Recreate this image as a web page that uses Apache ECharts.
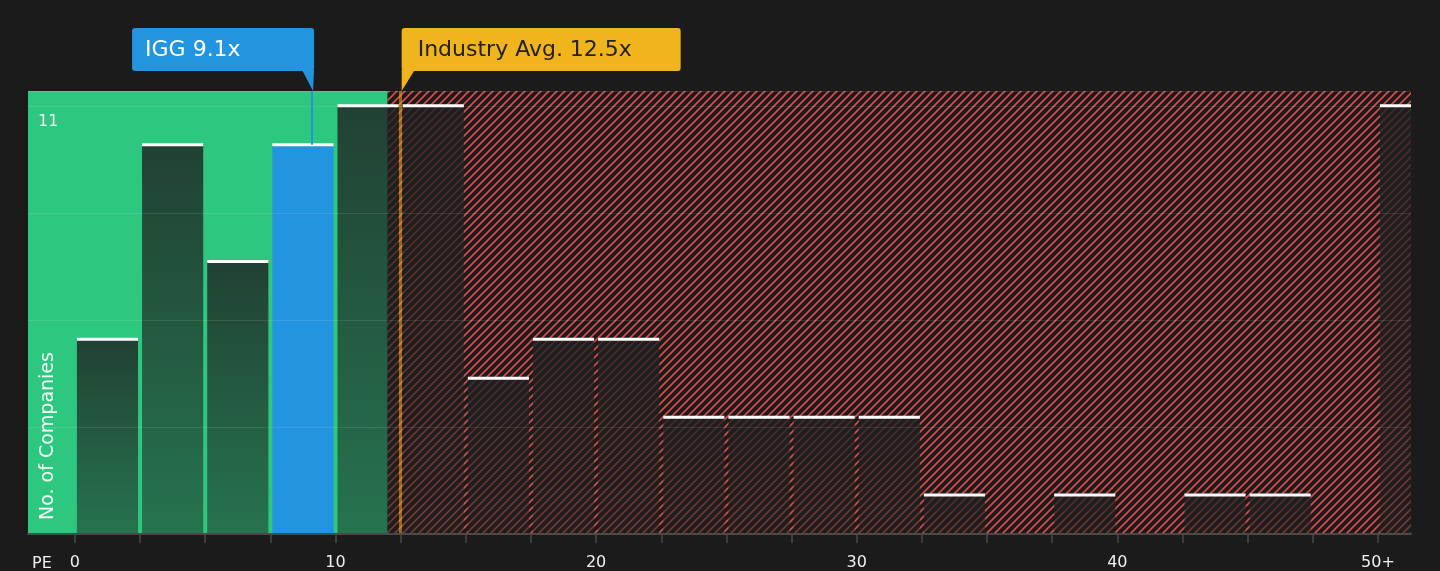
<!DOCTYPE html>
<html>
<head>
<meta charset="utf-8">
<script src="https://cdn.jsdelivr.net/npm/echarts@6/dist/echarts.min.js"></script>
<style>
  html, body { margin: 0; padding: 0; background: #1b1b1b; }
  #main { width: 1440px; height: 571px; }
</style>
</head>
<body>
<div id="main"></div>
<script>
// bins of PE ratio (edges), last bin is "50+"
var binStarts = [0, 2.5, 5, 7.5, 10, 12.5, 15, 17.5, 20, 22.5, 25, 27.5, 30, 32.5, 35, 37.5, 40, 42.5, 45, 47.5, 50];
var binEnds   = [2.5, 5, 7.5, 10, 12.5, 15, 17.5, 20, 22.5, 25, 27.5, 30, 32.5, 35, 37.5, 40, 42.5, 45, 47.5, 50, 52.5];
var counts    = [5, 10, 7, 10, 11, 11, 4, 5, 5, 3, 3, 3, 3, 1, 0, 1, 0, 1, 1, 0, 11];
var xTicks    = [0, 2.5, 5, 7.5, 10, 12.5, 15, 17.5, 20, 22.5, 25, 27.5, 30, 32.5, 35, 37.5, 40, 42.5, 45, 47.5, 50];
var xLabels   = [0, 10, 20, 30, 40, 50];
var yLabels   = [11];
var iggPE = 9.1;
var industryPE = 12.5;
var fairLimit = 12;   // end of green zone
var xMin = -1.8, xMax = 51.27, yMax = 11.38;

var FONT = 'DejaVu Sans';

function hatchPattern() {
    var c = document.createElement('canvas');
    c.width = 8; c.height = 8;
    var ctx = c.getContext('2d');
    ctx.fillStyle = '#1b1b1b';
    ctx.fillRect(0, 0, 8, 8);
    ctx.strokeStyle = '#d84c4c';
    ctx.lineWidth = 1.7;
    ctx.beginPath();
    ctx.moveTo(-1, 9); ctx.lineTo(9, -1);
    ctx.moveTo(-5, 5); ctx.lineTo(5, -5);
    ctx.moveTo(3, 13); ctx.lineTo(13, 3);
    ctx.stroke();
    return { image: c, repeat: 'repeat' };
}

var binData = [];
for (var i = 0; i < counts.length; i++) {
    binData.push([binStarts[i], binEnds[i], counts[i]]);
}
var zoneData = [[xMin, fairLimit, 0], [fairLimit, xMax, 1]];

var chart = echarts.init(document.getElementById('main'));

var barFill = new echarts.graphic.LinearGradient(0, 0, 0, 1, [
    { offset: 0, color: 'rgba(30,32,32,0.80)' },
    { offset: 1, color: 'rgba(30,32,32,0.50)' }
]);
var hatch = hatchPattern();

var option = {
    backgroundColor: '#1b1b1b',
    animation: false,
    grid: { left: 28, right: 29, top: 91, bottom: 36 },
    xAxis: {
        type: 'value',
        min: xMin,
        max: xMax,
        z: 5,
        splitLine: { show: false },
        axisLine: { lineStyle: { color: '#4a4a4a', width: 2 } },
        axisTick: { customValues: xTicks, length: 9, lineStyle: { color: '#4a4a4a', width: 1.5 } },
        axisLabel: {
            customValues: xLabels,
            color: '#f0f0f0',
            fontFamily: FONT,
            fontSize: 16,
            margin: 21,
            formatter: function (v) { return v === 50 ? '50+' : String(v); }
        }
    },
    yAxis: {
        type: 'value',
        min: 0,
        max: yMax,
        interval: 2.75,
        z: 5,
        axisLine: { show: false },
        axisTick: { show: false },
        splitLine: { lineStyle: { color: 'rgba(255,255,255,0.10)', width: 1 } },
        axisLabel: {
            customValues: yLabels,
            inside: true,
            margin: 10,
            verticalAlign: 'top',
            padding: [8, 0, 0, 0],
            color: '#f0f0f0',
            fontFamily: FONT,
            fontSize: 16
        }
    },
    series: [
        {
            // green "fair" zone and hatched zone behind everything
            type: 'custom',
            z: -1,
            silent: true,
            clip: true,
            data: zoneData,
            encode: { x: [0, 1] },
            renderItem: function (params, api) {
                var a = api.coord([api.value(0), yMax]);
                var b = api.coord([api.value(1), 0]);
                return {
                    type: 'rect',
                    shape: { x: a[0], y: a[1], width: b[0] - a[0], height: b[1] - a[1] },
                    style: { fill: api.value(2) ? hatch : '#2ec77f' }
                };
            }
        },
        {
            type: 'custom',
            clip: true,
            data: binData,
            encode: { x: [0, 1], y: 2 },
            renderItem: function (params, api) {
                var x0 = api.value(0), x1 = api.value(1), n = api.value(2);
                if (!n) return;
                var pTop = api.coord([x0, n]);
                var pBot = api.coord([x1, 0]);
                var left = pTop[0] + 2, right = pBot[0] - 2;
                var isIgg = x0 <= iggPE && iggPE < x1;
                return {
                    type: 'group',
                    children: [
                        {
                            type: 'rect',
                            shape: { x: left, y: pTop[1], width: right - left, height: pBot[1] - pTop[1] },
                            style: { fill: isIgg ? '#2394df' : barFill }
                        },
                        {
                            type: 'rect',
                            shape: { x: left, y: pTop[1] - 1.5, width: right - left, height: 3 },
                            style: { fill: '#ffffff' }
                        }
                    ]
                };
            },
            markLine: {
                silent: true,
                symbol: 'none',
                label: { show: false },
                data: [
                    [{ coord: [industryPE, 0], lineStyle: { color: 'rgba(225,160,30,0.6)', width: 3, type: 'solid' } },
                     { coord: [industryPE, yMax] }],
                    [{ coord: [iggPE, 10], lineStyle: { color: '#2394df', width: 2, type: 'solid' } },
                     { coord: [iggPE, yMax] }]
                ]
            }
        }
    ]
};
chart.setOption(option);

// callouts anchored to the data positions
var pIgg = chart.convertToPixel({ gridIndex: 0 }, [iggPE, yMax]);
var pInd = chart.convertToPixel({ gridIndex: 0 }, [industryPE, yMax]);
var boxTop = 28, boxH = 43, tipY = pIgg[1];
var iggRight = pIgg[0] + 2, iggW = 182;
var indLeft = pInd[0] + 1, indW = 279;

chart.setOption({
    graphic: [
        { type: 'rect', z: 10, shape: { x: iggRight - iggW, y: boxTop, width: iggW, height: boxH, r: 3 }, style: { fill: '#2394df' } },
        { type: 'polygon', z: 10, shape: { points: [[iggRight - 12, boxTop + boxH - 1], [iggRight, boxTop + boxH - 1], [iggRight - 1, tipY]] }, style: { fill: '#2394df' } },
        { type: 'text', z: 11, x: iggRight - iggW + 13, y: boxTop + boxH / 2 + 1, style: { text: 'IGG 9.1x', fill: '#ffffff', font: '22px "DejaVu Sans"', verticalAlign: 'middle', align: 'left' } },

        { type: 'rect', z: 10, shape: { x: indLeft, y: boxTop, width: indW, height: boxH, r: 3 }, style: { fill: '#f0b41c' } },
        { type: 'polygon', z: 10, shape: { points: [[indLeft, boxTop + boxH - 1], [indLeft + 13, boxTop + boxH - 1], [indLeft, tipY]] }, style: { fill: '#f0b41c' } },
        { type: 'text', z: 11, x: indLeft + 16, y: boxTop + boxH / 2 + 1, style: { text: 'Industry Avg. 12.5x', fill: '#222222', font: '22px "DejaVu Sans"', verticalAlign: 'middle', align: 'left' } },

        { type: 'text', z: 11, x: 32, y: 564, style: { text: 'PE', fill: '#f0f0f0', font: '16px "DejaVu Sans"', verticalAlign: 'middle', align: 'left' } },
        { type: 'text', z: 11, x: 48, y: 520, rotation: Math.PI / 2, style: { text: 'No. of Companies', fill: 'rgba(255,255,255,0.92)', font: '19px "DejaVu Sans"', verticalAlign: 'middle', align: 'left' } }
    ]
});
</script>
</body>
</html>
